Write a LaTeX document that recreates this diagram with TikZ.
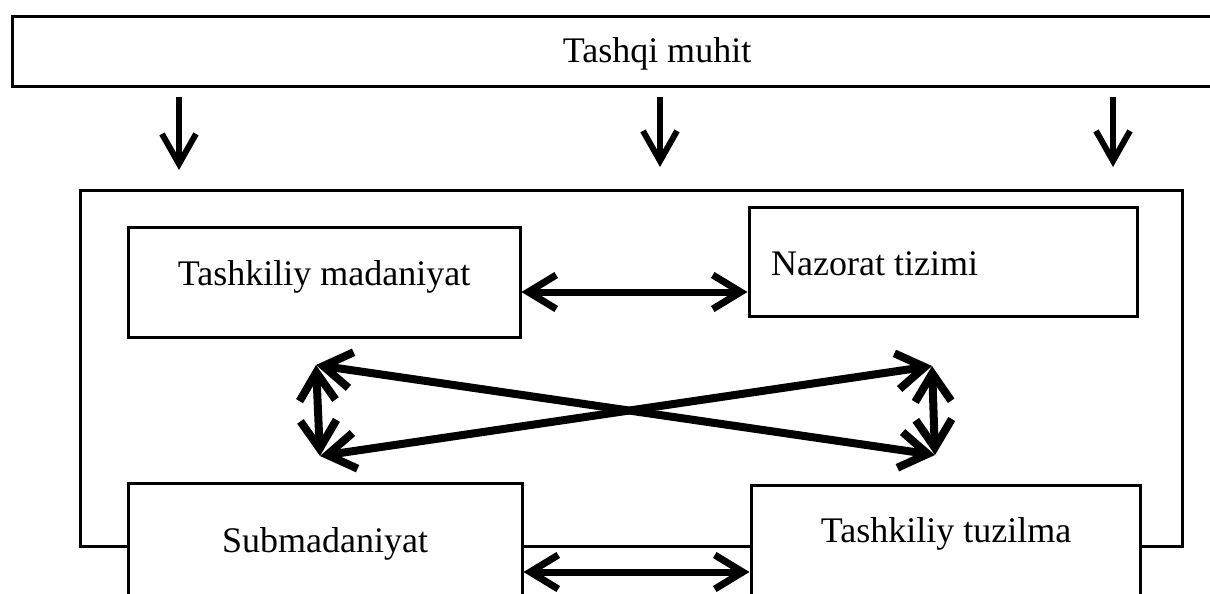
\documentclass[tikz,border=0pt]{standalone}
\usepackage{fontspec}
\setmainfont{Liberation Serif}
\usetikzlibrary{arrows.meta}
\begin{document}
\begin{tikzpicture}[x=1pt,y=-1pt,
  box/.style={draw=black,line width=3pt,fill=white,rectangle,inner sep=0pt},
  lbl/.style={font=\fontsize{36}{43}\selectfont,inner sep=0pt},
  downarr/.style={line width=6pt,-{Straight Barb[length=30pt,width=34pt]}},
  biarr/.style={line width=7pt,{Straight Barb[length=28pt,width=34pt]}-{Straight Barb[length=28pt,width=34pt]}},
  xarr/.style={line width=8pt,line join=round,{Straight Barb[length=28pt,width=36pt]}-{Straight Barb[length=28pt,width=36pt]}}]
\useasboundingbox (0,0) rectangle (1210,594);

% outer environment band
\node[box,minimum width=1218pt,minimum height=69pt] (env) at (621,51.5) {};
\node[lbl,anchor=base] (envt) at (657,63) {Tashqi muhit};

% influence arrows from the environment
\coordinate (d1s) at (179,97);  \coordinate (d1e) at (179,170);
\coordinate (d2s) at (660,97);  \coordinate (d2e) at (660,167);
\coordinate (d3s) at (1113,97); \coordinate (d3e) at (1113,167);
\draw[downarr] (d1s) -- (d1e);
\draw[downarr] (d2s) -- (d2e);
\draw[downarr] (d3s) -- (d3e);

% organisation frame
\draw[line width=3pt] (80,190) rectangle (1182,546);

% the four components
\node[box,minimum width=392pt,minimum height=110pt] (tm) at (324,282) {};
\node[lbl,anchor=base] (tmt) at (324,285) {Tashkiliy madaniyat};

\node[box,minimum width=388pt,minimum height=109pt] (nt) at (943,261.5) {};
\node[lbl,anchor=base west] (ntt) at (771,275) {Nazorat tizimi};

\node[box,minimum width=394pt,minimum height=157pt] (sub) at (325,561.5) {};
\node[lbl,anchor=base] (subt) at (325,552) {Submadaniyat};

\node[box,minimum width=389pt,minimum height=155pt] (tt) at (945.5,562.5) {};
\node[lbl,anchor=base] (ttt) at (946,542) {Tashkiliy tuzilma};

% horizontal links
\draw[biarr] (tm.east |- 0,292) -- (nt.west |- 0,292);
\draw[biarr] (sub.east |- 0,572) -- (tt.west |- 0,572);

% cross links between the four components
\coordinate (A) at (316,365);
\coordinate (B) at (320,456);
\coordinate (C) at (932,366);
\coordinate (D) at (935,455);
\draw[xarr] (A) -- (B);
\draw[xarr] (C) -- (D);
\draw[xarr] (A) -- (D);
\draw[xarr] (B) -- (C);
\end{tikzpicture}
\end{document}
